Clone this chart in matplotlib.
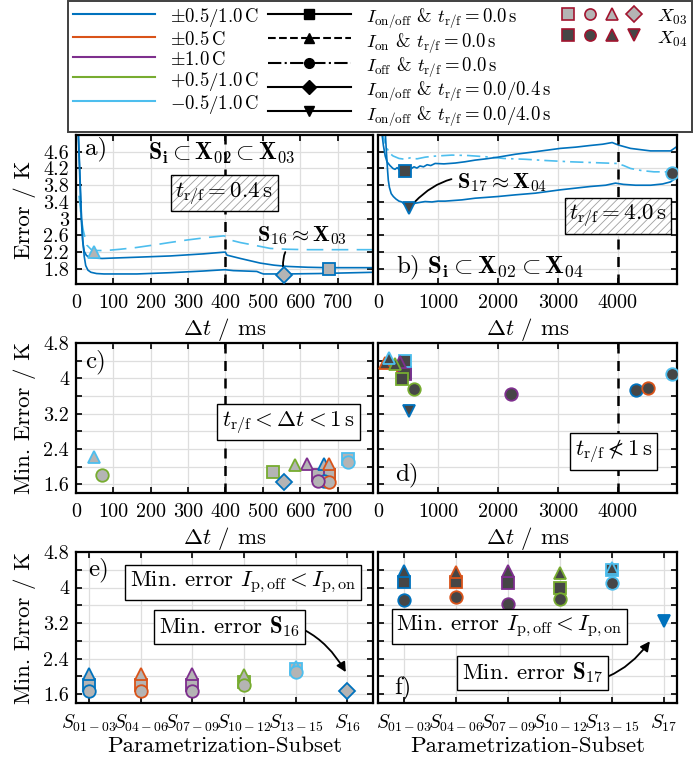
import numpy as np
import matplotlib
matplotlib.use('Agg')
import matplotlib.pyplot as plt
from matplotlib.lines import Line2D
from matplotlib.legend_handler import HandlerTuple

plt.rcParams['font.family'] = 'serif'
plt.rcParams['font.serif'] = ['cmr10']
plt.rcParams['mathtext.fontset'] = 'cm'
plt.rcParams['axes.formatter.use_mathtext'] = True
plt.rcParams['hatch.linewidth'] = 0.6

# MATLAB default colours for the five current profiles
colors = ['#0072BD', '#D95319', '#7E2F8E', '#77AC30', '#4DBEEE']
gray_fill = '#b4b4b4'   # X03
dark_fill = '#464646'   # X04
edge_red = '#A2142F'

# ---- panel a: error over dt (ms), X03 ----
a_onoff_t = [6, 10, 14, 18, 22, 28, 36, 50, 70, 100, 163, 252, 341, 395, 400, 404, 440, 493, 530, 565, 620, 672, 740, 796]
a_onoff_y = [5.1, 4.0, 3.0, 2.45, 2.22, 2.12, 2.08, 2.06, 2.05, 2.06, 2.08, 2.11, 2.16, 2.2, 2.2, 2.13, 2.05, 1.94, 1.89, 1.86, 1.84, 1.83, 1.83, 1.83]
a_tf04_t = [6, 10, 14, 18, 22, 26, 32, 40, 55, 75, 100, 163, 252, 341, 395, 400, 421, 484, 495, 502, 565, 650, 796]
a_tf04_y = [5.1, 4.2, 3.2, 2.5, 2.1, 1.88, 1.77, 1.72, 1.69, 1.68, 1.68, 1.68, 1.71, 1.75, 1.78, 1.78, 1.76, 1.74, 1.70, 1.68, 1.68, 1.69, 1.72]
a_on_t = [8, 11, 15, 20, 29, 40, 55, 80, 118, 160, 207, 250, 296, 350, 395, 400, 413, 440, 475, 520, 565, 620, 700, 796]
a_on_y = [3.55, 3.3, 2.95, 2.7, 2.37, 2.27, 2.24, 2.24, 2.27, 2.31, 2.37, 2.43, 2.49, 2.55, 2.59, 2.58, 2.49, 2.43, 2.37, 2.29, 2.27, 2.26, 2.26, 2.26]

# ---- panel b: error over dt (ms), X04 ----
b_onoff_t = [60, 90, 120, 150, 200, 250, 284, 320, 360, 400, 451, 500, 550, 600, 650, 700, 760, 820, 880, 953, 1100, 1288,
             1450, 1622, 1800, 2000, 2291, 2625, 3043, 3300, 3545, 3750, 3908, 3960, 4013, 4214, 4548, 4883, 4995]
b_onoff_y = [5.1, 4.75, 4.5, 4.36, 4.27, 4.2, 4.18, 4.22, 4.16, 4.2, 4.17, 4.22, 4.19, 4.24, 4.21, 4.26, 4.24, 4.29, 4.27, 4.32, 4.31, 4.33,
             4.36, 4.40, 4.43, 4.47, 4.54, 4.6, 4.68, 4.71, 4.75, 4.78, 4.82, 4.79, 4.76, 4.68, 4.62, 4.62, 4.73]
b_tf4_t = [120, 140, 160, 172, 190, 220, 256, 300, 350, 400, 450, 507, 560, 620, 700, 786, 900, 1000, 1120, 1400, 1622, 2000,
           2291, 2625, 3043, 3545, 3800, 3963, 4097, 4300, 4548, 4750, 4883, 4995]
b_tf4_y = [5.1, 4.6, 4.15, 3.92, 3.75, 3.6, 3.53, 3.47, 3.42, 3.4, 3.33, 3.29, 3.33, 3.37, 3.39, 3.41, 3.4, 3.42, 3.42, 3.45, 3.49, 3.53,
           3.57, 3.61, 3.69, 3.77, 3.8, 3.85, 3.82, 3.8, 3.8, 3.83, 3.88, 4.0]
b_off_t = [60, 89, 120, 150, 200, 250, 284, 350, 451, 550, 650, 786, 900, 1000, 1232, 1500, 1800, 2096, 2458, 2800, 3211, 3600,
           3991, 4100, 4214, 4400, 4604, 4800, 4911, 4995]
b_off_y = [5.1, 4.96, 4.8, 4.68, 4.56, 4.5, 4.48, 4.44, 4.42, 4.46, 4.43, 4.47, 4.49, 4.5, 4.52, 4.51, 4.48, 4.44, 4.42, 4.39, 4.36, 4.34,
           4.32, 4.27, 4.2, 4.15, 4.12, 4.12, 4.11, 4.2]

# ---- minimum errors, order: blue, orange, purple, green, light blue ----
x03_tri_t = [663, 677, 617, 587, 49]
x03_tri_y = [2.05, 2.05, 2.06, 2.03, 2.21]
x03_sq_t = [676, 677, 647, 527, 728]
x03_sq_y = [1.81, 1.80, 1.80, 1.87, 2.17]
x03_ci_t = [663, 677, 647, 69, 728]
x03_ci_y = [1.68, 1.66, 1.68, 1.80, 2.10]
s16_t, s16_y = 558, 1.66

x04_tri_t = [170, 120, 360, 290, 190]
x04_tri_y = [4.37, 4.35, 4.37, 4.33, 4.45]
x04_sq_t = [450, 420, 451, 396, 455]
x04_sq_y = [4.13, 4.13, 4.10, 3.98, 4.40]
x04_ci_t = [4298, 4504, 2219, 607, 4911]
x04_ci_y = [3.73, 3.79, 3.64, 3.75, 4.10]
s17_t, s17_y = 520, 3.25

subsets_e = [r'$S_{01-03}$', r'$S_{04-06}$', r'$S_{07-09}$', r'$S_{10-12}$', r'$S_{13-15}$', r'$S_{16}$']
subsets_f = [r'$S_{01-03}$', r'$S_{04-06}$', r'$S_{07-09}$', r'$S_{10-12}$', r'$S_{13-15}$', r'$S_{17}$']

W, H = 697, 763
fig = plt.figure(figsize=(W / 100, H / 100), dpi=100)


def rect(l, r, t, b):
    return [l / W, 1 - b / H, (r - l) / W, (b - t) / H]


ax_a = fig.add_axes(rect(76, 373, 135, 284))
ax_b = fig.add_axes(rect(378, 677, 135, 284))
ax_c = fig.add_axes(rect(76, 373, 343, 493))
ax_d = fig.add_axes(rect(378, 677, 343, 493))
ax_e = fig.add_axes(rect(76, 373, 552, 703))
ax_f = fig.add_axes(rect(378, 677, 552, 703))

yt1 = [1.8, 2.2, 2.6, 3.0, 3.4, 3.8, 4.2, 4.6]
yl1 = ['1.8', '2.2', '2.6', '3', '3.4', '3.8', '4.2', '4.6']
yt2 = [1.6, 2.0, 2.4, 2.8, 3.2, 3.6, 4.0, 4.4, 4.8]
yl2 = ['1.6', '', '2.4', '', '3.2', '', '4', '', '4.8']


def style(ax, xlim, xt, xl, ylim, yt, yl):
    ax.set_xlim(xlim)
    ax.set_ylim(ylim)
    ax.set_xticks(xt)
    ax.set_xticklabels(xl)
    ax.set_yticks(yt)
    ax.set_yticklabels(yl)
    ax.grid(True, color='#dedede', lw=0.9)
    ax.set_axisbelow(True)
    ax.tick_params(direction='in', top=True, right=True, length=4, width=1.2, labelsize=14.5)
    ax.tick_params(axis='x', pad=7)
    ax.tick_params(axis='y', pad=5)
    for s in ax.spines.values():
        s.set_linewidth(1.6)


ms_t = list(range(0, 800, 100))
ms_b = [0, 1000, 2000, 3000, 4000]
style(ax_a, (0, 795), ms_t, [str(v) for v in ms_t], (1.44, 5.0), yt1, yl1)
style(ax_b, (0, 4990), ms_b, [str(v) for v in ms_b], (1.44, 5.0), yt1, [''] * len(yt1))
style(ax_c, (0, 795), ms_t, [str(v) for v in ms_t], (1.4, 4.8), yt2, yl2)
style(ax_d, (0, 4990), ms_b, [str(v) for v in ms_b], (1.4, 4.8), yt2, [''] * len(yt2))
pos = list(range(1, 7))
style(ax_e, (0.75, 6.5), pos, subsets_e, (1.4, 4.8), yt2, yl2)
style(ax_f, (0.5, 6.25), pos, subsets_f, (1.4, 4.8), yt2, [''] * len(yt2))
for ax in (ax_e, ax_f):
    ax.tick_params(axis='x', labelsize=14)

for ax in (ax_a, ax_b, ax_c, ax_d):
    ax.set_xlabel(r'$\Delta t$ / ms', fontsize=16.5)
    ax.xaxis.set_label_coords(0.5, -0.215)
for ax in (ax_e, ax_f):
    ax.set_xlabel('Parametrization-Subset', fontsize=16.5)
    ax.xaxis.set_label_coords(0.5, -0.225)
ax_a.set_ylabel('Error / K', fontsize=16.5)
ax_c.set_ylabel('Min. Error / K', fontsize=16.5)
ax_e.set_ylabel('Min. Error / K', fontsize=16.5)
for ax in (ax_a, ax_c, ax_e):
    ax.yaxis.set_label_coords(-0.135, 0.5)

for ax, v in ((ax_a, 400), (ax_c, 400), (ax_b, 4000), (ax_d, 4000)):
    ax.axvline(v, color='k', ls=(0, (4, 3)), lw=1.8, zorder=3)

mk = dict(ms=9, mew=1.3, ls='none', zorder=5)
mks = dict(mk, ms=8)

# panel a curves
ax_a.plot(a_on_t, a_on_y, color=colors[4], lw=1.2, ls=(0, (10, 5)))
ax_a.plot(a_onoff_t, a_onoff_y, color=colors[0], lw=1.2)
ax_a.plot(a_tf04_t, a_tf04_y, color=colors[0], lw=1.2)
ax_a.plot(x03_tri_t[4], x03_tri_y[4], marker='^', mfc=gray_fill, mec=colors[4], **mk)
ax_a.plot(x03_sq_t[0], x03_sq_y[0], marker='s', mfc=gray_fill, mec=colors[0], **mks)
ax_a.plot(s16_t, s16_y, marker='D', mfc=gray_fill, mec=colors[0], **mks)

# panel b curves
ax_b.plot(b_off_t, b_off_y, color=colors[4], lw=1.2, ls=(0, (8, 3, 1.5, 3)))
ax_b.plot(b_onoff_t, b_onoff_y, color=colors[0], lw=1.2)
ax_b.plot(b_tf4_t, b_tf4_y, color=colors[0], lw=1.2)
ax_b.plot(x04_sq_t[0], x04_sq_y[0], marker='s', mfc=dark_fill, mec=colors[0], **mks)
ax_b.plot(s17_t, s17_y, marker='v', mfc=dark_fill, mec=colors[0], **mk)
ax_b.plot(x04_ci_t[4], x04_ci_y[4], marker='o', mfc=dark_fill, mec=colors[4], **mk)

# panels c-f: minimum errors
for i, c in enumerate(colors):
    ax_c.plot(x03_sq_t[i], x03_sq_y[i], marker='s', mfc=gray_fill, mec=c, **mks)
    ax_d.plot(x04_sq_t[i], x04_sq_y[i], marker='s', mfc=dark_fill, mec=c, **mks)
    ax_e.plot(i + 1, x03_sq_y[i], marker='s', mfc=gray_fill, mec=c, **mks)
    ax_f.plot(i + 1, x04_sq_y[i], marker='s', mfc=dark_fill, mec=c, **mks)
for i, c in enumerate(colors):
    ax_c.plot(x03_tri_t[i], x03_tri_y[i], marker='^', mfc=gray_fill, mec=c, **mk)
    ax_d.plot(x04_tri_t[i], x04_tri_y[i], marker='^', mfc=dark_fill, mec=c, **mk)
    ax_e.plot(i + 1, x03_tri_y[i], marker='^', mfc=gray_fill, mec=c, **mk)
    ax_f.plot(i + 1, x04_tri_y[i], marker='^', mfc=dark_fill, mec=c, **mk)
for i, c in enumerate(colors):
    ax_c.plot(x03_ci_t[i], x03_ci_y[i], marker='o', mfc=gray_fill, mec=c, **mk)
    ax_d.plot(x04_ci_t[i], x04_ci_y[i], marker='o', mfc=dark_fill, mec=c, **mk)
    ax_e.plot(i + 1, x03_ci_y[i], marker='o', mfc=gray_fill, mec=c, **mk)
    ax_f.plot(i + 1, x04_ci_y[i], marker='o', mfc=dark_fill, mec=c, **mk)
ax_c.plot(s16_t, s16_y, marker='D', mfc=gray_fill, mec=colors[0], **mks)
ax_e.plot(6, s16_y, marker='D', mfc=gray_fill, mec=colors[0], **mks)
ax_d.plot(s17_t, s17_y, marker='v', mfc=dark_fill, mec=colors[0], **mk)
ax_f.plot(6, s17_y, marker='v', mfc=colors[0], mec=colors[0], **mk)


# ---- annotations ----
FS = 16.5


def hatched(ax, x, y, s):
    ax.text(x, y, s, color='none', ha='center', va='center', fontsize=FS, zorder=6,
            bbox=dict(boxstyle='square,pad=0.2', fc='white', ec='#a0a0a0', hatch='////', lw=0))
    ax.text(x, y, s, ha='center', va='center', fontsize=FS, zorder=7,
            bbox=dict(boxstyle='square,pad=0.2', fc='none', ec='k', lw=1))


def boxed(ax, x, y, s):
    ax.text(x, y, s, ha='center', va='center', fontsize=FS, zorder=7,
            bbox=dict(boxstyle='square,pad=0.2', fc='white', ec='k', lw=1))


lab = dict(fontsize=18, ha='left', va='center')
ax_a.text(25, 4.68, 'a)', **lab)
ax_b.text(300, 1.82, r'b) $\mathbf{S}_\mathbf{i} \subset \mathbf{X}_\mathbf{02} \subset \mathbf{X}_\mathbf{04}$', **lab)
ax_c.text(25, 4.38, 'c)', **lab)
ax_d.text(285, 1.81, 'd)', **lab)
ax_e.text(0.98, 4.4, 'e)', **lab)
ax_f.text(0.81, 1.74, 'f)', **lab)

ax_a.text(390, 4.58, r'$\mathbf{S}_\mathbf{i} \subset \mathbf{X}_\mathbf{02} \subset \mathbf{X}_\mathbf{03}$',
          fontsize=17, ha='center', va='center')
hatched(ax_a, 397, 3.61, r'$t_{\rm r/f} = 0.4\,{\rm s}$')
hatched(ax_b, 4005, 3.07, r'$t_{\rm r/f} = 4.0\,{\rm s}$')
boxed(ax_c, 569, 3.0, r'$t_{\rm r/f} < \Delta t < 1\,{\rm s}$')
boxed(ax_d, 3935, 2.34, r'$t_{\rm r/f} \nless 1\,{\rm s}$')
boxed(ax_e, 3.98, 4.12, r'Min. error $I_{\rm p,off} < I_{\rm p,on}$')
boxed(ax_f, 3.03, 3.12, r'Min. error $I_{\rm p,off} < I_{\rm p,on}$')

ax_a.annotate(r'$\mathbf{S}_\mathbf{16} \approx \mathbf{X}_\mathbf{03}$', xy=(s16_t, s16_y), xytext=(606, 2.6),
              fontsize=16, ha='center', va='center',
              arrowprops=dict(arrowstyle='-', color='k', lw=1.3, connectionstyle='arc3,rad=0.4', shrinkB=6))
ax_b.annotate(r'$\mathbf{S}_\mathbf{17} \approx \mathbf{X}_\mathbf{04}$', xy=(s17_t, s17_y), xytext=(2070, 3.86),
              fontsize=16, ha='center', va='center',
              arrowprops=dict(arrowstyle='-', color='k', lw=1.3, connectionstyle='arc3,rad=0.35', shrinkB=6))
ax_e.annotate(r'Min. error $\mathbf{S}_\mathbf{16}$', xy=(6, 2.04), xytext=(3.72, 3.12),
              fontsize=FS, ha='center', va='center', zorder=7,
              bbox=dict(boxstyle='square,pad=0.2', fc='white', ec='k', lw=1),
              arrowprops=dict(arrowstyle='-|>', color='k', lw=1.3, mutation_scale=14,
                              connectionstyle='arc3,rad=-0.4', shrinkA=0, shrinkB=2))
ax_f.annotate(r'Min. error $\mathbf{S}_\mathbf{17}$', xy=(5.76, 2.84), xytext=(3.47, 2.08),
              fontsize=FS, ha='center', va='center', zorder=7,
              bbox=dict(boxstyle='square,pad=0.2', fc='white', ec='k', lw=1),
              arrowprops=dict(arrowstyle='-|>', color='k', lw=1.3, mutation_scale=14,
                              connectionstyle='arc3,rad=0.4', shrinkA=0, shrinkB=2))

# ---- legend ----
col1_labels = [r'$\pm0.5/1.0\,$C', r'$\pm0.5\,$C', r'$\pm1.0\,$C', r'$+0.5/1.0\,$C', r'$-0.5/1.0\,$C']
col2_styles = [('-', 's'), ('--', '^'), ('-.', 'o'), ('-', 'D'), ('-', 'v')]
col2_labels = [r'$I_{\rm on/off}$ & $t_{\rm r/f} = 0.0\,$s', r'$I_{\rm on}$ & $t_{\rm r/f} = 0.0\,$s',
               r'$I_{\rm off}$ & $t_{\rm r/f} = 0.0\,$s', r'$I_{\rm on/off}$ & $t_{\rm r/f} = 0.0/0.4\,$s',
               r'$I_{\rm on/off}$ & $t_{\rm r/f} = 0.0/4.0\,$s']
handles = [Line2D([], [], color=c, lw=1.5) for c in colors]
handles += [Line2D([], [], color='k', ls=ls, marker=m, ms=7, lw=1.5) for ls, m in col2_styles]
lm = dict(ls='none', ms=8, mew=1.2, mec=edge_red)
handles.append(tuple(Line2D([], [], marker=m, mfc=gray_fill, **lm) for m in ['s', 'o', '^', 'D']))
handles.append(tuple(Line2D([], [], marker=m, mfc=dark_fill, **lm) for m in ['s', 'o', '^', 'v']))
handles += [Line2D([], [], ls='none')] * 3
labels = col1_labels + col2_labels + [r'$X_{03}$', r'$X_{04}$', '', '', '']

leg = fig.legend(handles, labels, ncol=3, loc='upper left', mode='expand',
                 bbox_to_anchor=(68 / W, 1 - 131 / H, 624 / W, 130 / H), borderaxespad=0,
                 handlelength=4.4, handleheight=1.25, fontsize=13.5, fancybox=False, framealpha=1,
                 edgecolor='#404040', labelspacing=0.0, borderpad=0.25, columnspacing=1.0,
                 handler_map={tuple: HandlerTuple(ndivide=None, pad=0.3)})
leg.get_frame().set_linewidth(1.4)

fig.savefig('out.png', dpi=100)
